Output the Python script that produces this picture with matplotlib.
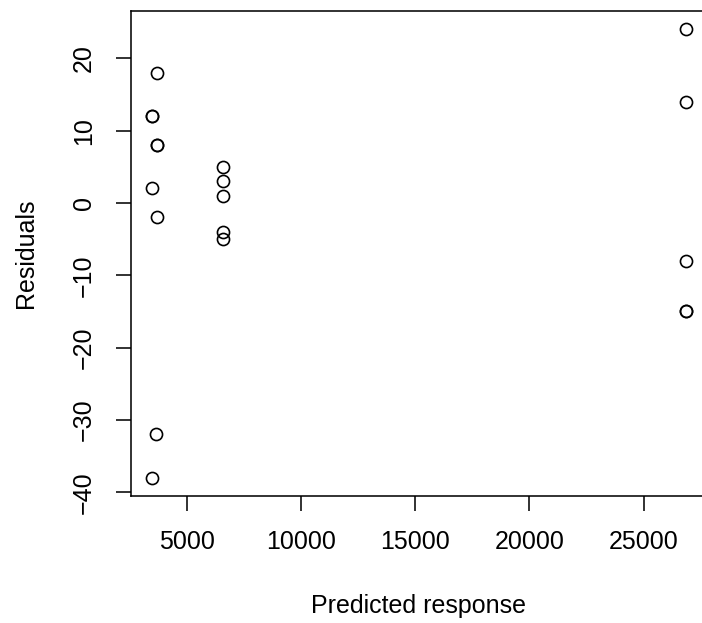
import matplotlib
matplotlib.use("Agg")
import matplotlib.pyplot as plt
import numpy as np

plt.rcParams['font.family'] = ['Liberation Sans', 'DejaVu Sans']
plt.rcParams['font.size'] = 12

# fitted values and residuals
predicted = [3714, 3496, 3496, 3714, 3714, 3496, 3714, 3670, 3470,
             6574, 6574, 6574, 6574, 6574,
             26836, 26836, 26836, 26836, 26836]
residuals = [18, 12, 12, 8, 8, 2, -2, -32, -38,
             5, 3, 1, -4, -5,
             24, 14, -8, -15, -15]
x_ticks = [5000, 10000, 15000, 20000, 25000]
y_ticks = [-40, -30, -20, -10, 0, 10, 20]

W, H, DPI = 702, 623, 150
fig = plt.figure(figsize=(W / DPI, H / DPI), dpi=DPI)

# plot region in pixels (R style, right edge runs past the canvas)
left, right, top, bottom = 130.5, 707.0, 11.4, 495.8
ax = fig.add_axes([left / W, (H - bottom) / H, (right - left) / W, (bottom - top) / H])

ax.plot(predicted, residuals, linestyle='none', marker='o', markersize=5.8,
        markerfacecolor='none', markeredgecolor='black', markeredgewidth=0.8)

def r_range(v):
    lo, hi = min(v), max(v)
    pad = 0.04 * (hi - lo)
    return lo - pad, hi + pad

ax.set_xlim(*r_range(predicted))
ax.set_ylim(*r_range(residuals))
ax.set_xticks(x_ticks)
ax.set_yticks(y_ticks)
ax.set_xticklabels([str(t) for t in x_ticks])
ax.set_yticklabels([str(t).replace('-', '\u2212') for t in y_ticks],
                   rotation=90, va='center')

for s in ax.spines.values():
    s.set_linewidth(0.75)
ax.tick_params(length=7.2, width=0.75, direction='out', pad=9)
ax.tick_params(axis='y', pad=9.5)

fig.text((left + right) / 2 / W, (H - 613) / H, 'Predicted response',
         ha='center', va='baseline')
fig.text(33 / W, (H - (top + bottom) / 2) / H, 'Residuals', rotation=90,
         rotation_mode='anchor', ha='center', va='baseline')

fig.savefig('out.png', dpi=DPI)
